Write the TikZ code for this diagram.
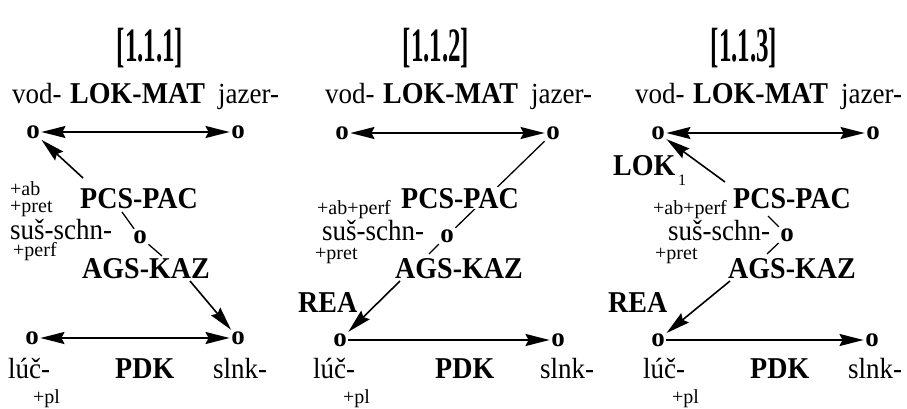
\documentclass[tikz,border=0pt]{standalone}
\usepackage{fontspec}
\setmainfont{Liberation Serif}
\usepackage{graphicx}
\usetikzlibrary{arrows.meta}
\newcommand{\vs}[1]{\scalebox{1}[1.08]{#1}}
\tikzset{
  rg/.style={font=\fontsize{27}{27}\selectfont, inner sep=0pt, anchor=base west},
  bd/.style={font=\fontsize{28}{28}\selectfont\bfseries, inner sep=0pt, anchor=base west},
  sm/.style={font=\fontsize{20}{20}\selectfont, inner sep=0pt, anchor=base west},
  pt/.style={font=\fontsize{27}{27}\selectfont\bfseries, inner sep=1.5pt},
  ttl/.style={font=\fontsize{48}{48}\selectfont\bfseries, inner sep=0pt},
  tip/.tip={Stealth[length=24pt,width=12pt,inset=3pt]},
  ar/.style={line width=1.6pt, -tip},
  dar/.style={line width=1.6pt, tip-tip},
  ln/.style={line width=1.3pt}
}
\begin{document}
\begin{tikzpicture}[x=1pt,y=-1pt]
\useasboundingbox (0,0) rectangle (907,409);
% titles
\node[ttl] (t1) at (150,48) {\scalebox{0.52}[1]{[1.1.1]}};
\node[ttl] (t2) at (436,48) {\scalebox{0.52}[1]{[1.1.2]}};
\node[ttl] (t3) at (744,48) {\scalebox{0.52}[1]{[1.1.3]}};

% ---------------- panel 1
\node[rg] (v1) at (12,104) {\vs{vod-}};
\node[bd] (lm1) at (70,104) {\vs{LOK-MAT}};
\node[rg] (j1) at (218,104) {\vs{jazer-}};
\node[pt] (tl1) at (33,132) {o};
\node[pt] (tr1) at (238,132) {o};
\node[pt] (m1) at (140,237) {o};
\node[pt] (bl1) at (32,338) {o};
\node[pt] (br1) at (238,338) {o};
\node[sm] (ab1) at (10,195) {+ab};
\node[sm] (pr1) at (10,212) {+pret};
\node[rg] (ss1) at (10,239) {\vs{suš-schn-}};
\node[sm] (pf1) at (13,256) {+perf};
\node[bd] (pcs1) at (80,208) {\vs{PCS-PAC}};
\node[bd] (ags1) at (82,278) {\vs{AGS-KAZ}};
\node[rg] (lu1) at (8,378) {\vs{lúč-}};
\node[bd] (pdk1) at (115,378) {\vs{PDK}};
\node[rg] (sl1) at (213,378) {\vs{slnk-}};
\node[sm] (pl1) at (33,403) {+pl};
\coordinate (a1s) at (83,178);
\coordinate (l1a) at (122,212);
\coordinate (l1b) at (162,256);
\coordinate (a1e) at (190,281);
\draw[dar] (tl1) -- (tr1);
\draw[ar] (a1s) -- (tl1);
\draw[ln] (l1a) -- (m1);
\draw[ln] (m1) -- (l1b);
\draw[ar] (a1e) -- (br1);
\draw[dar] (bl1) -- (br1);

% ---------------- panel 2
\node[rg] (v2) at (325,104) {\vs{vod-}};
\node[bd] (lm2) at (383,104) {\vs{LOK-MAT}};
\node[rg] (j2) at (531,104) {\vs{jazer-}};
\node[pt] (tl2) at (342,133) {o};
\node[pt] (tr2) at (553,133) {o};
\node[pt] (m2) at (447,236) {o};
\node[pt] (bl2) at (340,340) {o};
\node[pt] (br2) at (558,340) {o};
\coordinate (l2b) at (429,254);
\draw[ln] (tr2) -- (m2);
\draw[ln] (m2) -- (l2b);
\node[sm] (ab2) at (317,214) {+ab+perf};
\node[rg] (ss2) at (322,240) {\vs{suš-schn-}};
\node[sm] (pr2) at (315,259) {+pret};
\node[bd, fill=white, inner sep=1pt] (pcs2) at (400,208) {\vs{PCS-PAC}};
\node[bd] (ags2) at (395,278) {\vs{AGS-KAZ}};
\node[bd] (rea2) at (298,312) {\vs{REA}};
\node[rg] (lu2) at (313,378) {\vs{lúč-}};
\node[bd] (pdk2) at (435,378) {\vs{PDK}};
\node[rg] (sl2) at (540,378) {\vs{slnk-}};
\node[sm] (pl2) at (343,403) {+pl};
\coordinate (a2e) at (400,281);
\draw[dar] (tl2) -- (tr2);
\draw[ar] (a2e) -- (bl2);
\draw[ar] (bl2) -- (br2);

% ---------------- panel 3
\node[rg] (v3) at (635,104) {\vs{vod-}};
\node[bd] (lm3) at (693,104) {\vs{LOK-MAT}};
\node[rg] (j3) at (841,104) {\vs{jazer-}};
\node[pt] (tl3) at (658,133) {o};
\node[pt] (tr3) at (873,133) {o};
\node[pt] (m3) at (787,235) {o};
\node[pt] (bl3) at (658,340) {o};
\node[pt] (br3) at (872,340) {o};
\node[bd] (lok3) at (613,175) {\vs{LOK}\raisebox{-10pt}{\fontsize{16}{16}\selectfont\mdseries\,1}};
\node[sm] (ab3) at (653,214) {+ab+perf};
\node[rg] (ss3) at (668,240) {\vs{suš-schn-}};
\node[sm] (pr3) at (655,259) {+pret};
\node[bd] (pcs3) at (733,208) {\vs{PCS-PAC}};
\node[bd] (ags3) at (728,278) {\vs{AGS-KAZ}};
\node[bd] (rea3) at (608,312) {\vs{REA}};
\node[rg] (lu3) at (643,378) {\vs{lúč-}};
\node[bd] (pdk3) at (750,378) {\vs{PDK}};
\node[rg] (sl3) at (848,378) {\vs{slnk-}};
\node[sm] (pl3) at (672,403) {+pl};
\coordinate (a3s) at (725,182);
\coordinate (l3a) at (768,216);
\coordinate (l3b) at (767,254);
\coordinate (a3e) at (730,281);
\draw[dar] (tl3) -- (tr3);
\draw[ar] (a3s) -- (tl3);
\draw[ln] (l3a) -- (m3);
\draw[ln] (m3) -- (l3b);
\draw[ar] (a3e) -- (bl3);
\draw[ar] (bl3) -- (br3);
\end{tikzpicture}
\end{document}
